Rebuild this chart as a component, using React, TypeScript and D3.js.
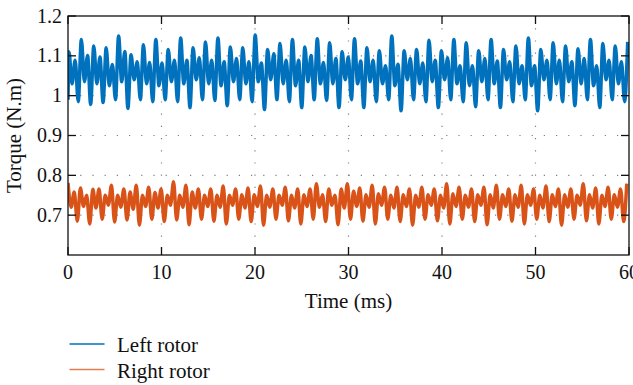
import React from "react";
import * as d3 from "d3";

// ---- data ----
const xTicks = [0, 10, 20, 30, 40, 50, 60];
const yTicks = [0.7, 0.8, 0.9, 1.0, 1.1, 1.2];
const yTickLabels = ["0.7", "0.8", "0.9", "1", "1.1", "1.2"];

const peakPeriodMs = 0.664; // spacing of successive local maxima
const leftStartMs = 0.1;
const rightStartMs = 0.0;

const leftStartValue = 0.99;
const leftPeaks = [
  1.110, 1.089, 1.141, 1.101, 1.125, 1.097, 1.120, 1.078, 1.150, 1.111, 1.103, 1.085, 1.128, 1.083, 1.141, 1.082, 1.116, 1.089, 1.145, 1.089, 1.120, 1.095, 1.135,
  1.089, 1.145, 1.085, 1.122, 1.093, 1.120, 1.085, 1.152, 1.082, 1.116, 1.105, 1.131, 1.089, 1.141, 1.089, 1.122, 1.101, 1.143, 1.083, 1.133, 1.093, 1.110,
  1.097, 1.143, 1.087, 1.120, 1.089, 1.113, 1.075, 1.150, 1.079, 1.113, 1.093, 1.116, 1.082, 1.139, 1.089, 1.113, 1.095, 1.141, 1.075, 1.133, 1.075, 1.113, 1.093,
  1.141, 1.087, 1.116, 1.085, 1.125, 1.075, 1.145, 1.075, 1.116, 1.089, 1.133, 1.089, 1.125, 1.085, 1.118, 1.093, 1.141, 1.075, 1.131, 1.089, 1.125, 1.085, 1.135,
];
const leftTroughs = [
  1.03, 0.985, 1.035, 0.978, 1.03, 0.983, 1.025, 0.99, 1.035, 0.968,
  1.04, 0.99, 1.03, 0.985, 1.025, 0.99, 1.035, 0.985, 1.03, 0.97,
  1.04, 0.99, 1.03, 0.988, 1.025, 0.975, 1.035, 0.99, 1.03, 0.985,
  1.035, 0.965, 1.04, 0.99, 1.03, 0.985, 1.025, 0.97, 1.035, 0.99,
  1.03, 0.988, 1.03, 0.97, 1.04, 0.99, 1.03, 0.97, 1.035, 0.985,
  1.03, 0.99, 1.025, 0.962, 1.04, 0.99, 1.03, 0.985, 1.035, 0.97,
  1.04, 0.99, 1.03, 0.985, 1.025, 0.972, 1.035, 0.99, 1.03, 0.97,
  1.04, 0.985, 1.03, 0.99, 1.025, 0.962, 1.04, 0.99, 1.03, 0.985,
  1.035, 0.975, 1.03, 0.99, 1.025, 0.97, 1.04, 0.99, 1.03, 0.985,
];

const rightPeaks = [
  0.781, 0.758, 0.768, 0.750, 0.765, 0.766, 0.750, 0.775, 0.750, 0.766, 0.758, 0.775, 0.750, 0.770, 0.757, 0.766, 0.750, 0.784, 0.750, 0.775, 0.758, 0.766, 0.750,
  0.766, 0.750, 0.773, 0.750, 0.766, 0.751, 0.768, 0.751, 0.773, 0.750, 0.766, 0.750, 0.770, 0.750, 0.766, 0.751, 0.766, 0.779, 0.751, 0.766, 0.750, 0.766, 0.779,
  0.760, 0.768, 0.751, 0.775, 0.754, 0.770, 0.750, 0.770, 0.751, 0.766, 0.750, 0.770, 0.751, 0.766, 0.750, 0.779, 0.754, 0.770, 0.750, 0.766, 0.751, 0.770,
  0.751, 0.775, 0.751, 0.766, 0.751, 0.775, 0.751, 0.766, 0.750, 0.773, 0.751, 0.766, 0.751, 0.766, 0.750, 0.779, 0.751, 0.768, 0.750, 0.770, 0.751, 0.766, 0.779,
];
const rightTroughs = [
  0.72, 0.685, 0.722, 0.678, 0.718, 0.69, 0.725, 0.683, 0.72, 0.688,
  0.715, 0.675, 0.722, 0.69, 0.718, 0.684, 0.725, 0.688, 0.72, 0.676,
  0.718, 0.69, 0.722, 0.685, 0.72, 0.678, 0.725, 0.69, 0.718, 0.684,
  0.722, 0.675, 0.72, 0.69, 0.725, 0.686, 0.718, 0.678, 0.722, 0.69,
  0.72, 0.684, 0.725, 0.676, 0.718, 0.69, 0.722, 0.685, 0.72, 0.678,
  0.725, 0.69, 0.718, 0.684, 0.722, 0.675, 0.72, 0.69, 0.725, 0.686,
  0.718, 0.678, 0.722, 0.69, 0.72, 0.684, 0.725, 0.676, 0.718, 0.69,
  0.722, 0.685, 0.72, 0.678, 0.725, 0.69, 0.718, 0.684, 0.722, 0.675,
  0.72, 0.69, 0.725, 0.686, 0.718, 0.678, 0.722, 0.69, 0.72, 0.684,
];

const seriesNames = ["Left rotor", "Right rotor"];
const seriesColors = ["#0072BD", "#D95319"];

type Pt = [number, number];

function buildSeries(start: number, startValue: number | null, peaks: number[], troughs: number[]): Pt[] {
  const pts: Pt[] = [];
  if (startValue !== null) pts.push([0, startValue]);
  peaks.forEach((p, i) => {
    const t = start + i * peakPeriodMs;
    pts.push([t, p]);
    if (i < troughs.length) pts.push([t + peakPeriodMs / 2, troughs[i]]);
  });
  return pts;
}

const W = 633;
const H = 385;
const M = { left: 68, right: 629, top: 16, bottom: 255 };
const FONT = '"Liberation Serif", "Times New Roman", serif';

export default function App() {
  const x = d3.scaleLinear().domain([0, 60]).range([M.left, M.right]);
  const y = d3.scaleLinear().domain([0.6, 1.2]).range([M.bottom, M.top]);

  const line = d3
    .line<Pt>()
    .x((d) => x(d[0]))
    .y((d) => y(d[1]))
    .curve(d3.curveMonotoneX);

  const leftData = buildSeries(leftStartMs, leftStartValue, leftPeaks, leftTroughs);
  const rightData = buildSeries(rightStartMs, null, rightPeaks, rightTroughs);
  const all = [leftData, rightData];

  const tickLen = 8;
  const gridStyle = { stroke: "#555", strokeWidth: 1.2, strokeDasharray: "1.2 11", opacity: 0.75 };

  return (
    <svg
      width={W}
      height={H}
      style={{ position: "absolute", left: 0, top: 0, background: "#fff" }}
      fontFamily={FONT}
    >
      <defs>
        <clipPath id="plotClip">
          <rect x={M.left} y={M.top} width={M.right - M.left} height={M.bottom - M.top} />
        </clipPath>
      </defs>
      <rect x={0} y={0} width={W} height={H} fill="#fff" />

      {/* grid */}
      {xTicks.slice(1, -1).map((t) => (
        <line key={"gx" + t} x1={x(t)} x2={x(t)} y1={M.top} y2={M.bottom} {...gridStyle} />
      ))}
      {yTicks.slice(0, -1).map((t) => (
        <line key={"gy" + t} x1={M.left} x2={M.right} y1={y(t)} y2={y(t)} {...gridStyle} />
      ))}

      {/* series */}
      <g clipPath="url(#plotClip)">
        {all.map((d, i) => (
          <path
            key={i}
            d={line(d) || ""}
            fill="none"
            stroke={seriesColors[i]}
            strokeWidth={3.5}
            strokeLinejoin="round"
          />
        ))}
      </g>

      {/* axes box */}
      <rect
        x={M.left}
        y={M.top}
        width={M.right - M.left}
        height={M.bottom - M.top}
        fill="none"
        stroke="#111"
        strokeWidth={1.3}
      />
      {xTicks.map((t) => (
        <g key={"xt" + t}>
          <line x1={x(t)} x2={x(t)} y1={M.bottom} y2={M.bottom - tickLen} stroke="#111" strokeWidth={1.3} />
          <line x1={x(t)} x2={x(t)} y1={M.top} y2={M.top + tickLen} stroke="#111" strokeWidth={1.3} />
          <text x={x(t)} y={279} textAnchor="middle" fontSize={20} fill="#111">
            {t}
          </text>
        </g>
      ))}
      {yTicks.map((t, i) => (
        <g key={"yt" + t}>
          <line x1={M.left} x2={M.left + tickLen} y1={y(t)} y2={y(t)} stroke="#111" strokeWidth={1.3} />
          <line x1={M.right} x2={M.right - tickLen} y1={y(t)} y2={y(t)} stroke="#111" strokeWidth={1.3} />
          <text x={62} y={y(t) + 6.5} textAnchor="end" fontSize={20} fill="#111">
            {yTickLabels[i]}
          </text>
        </g>
      ))}

      {/* axis titles */}
      <text x={(M.left + M.right) / 2} y={308} textAnchor="middle" fontSize={21} fill="#111">
        Time (ms)
      </text>
      <text
        transform={`translate(21, ${(M.top + M.bottom) / 2}) rotate(-90)`}
        textAnchor="middle"
        fontSize={21}
        fill="#111"
      >
        Torque (N.m)
      </text>

      {/* legend */}
      {seriesNames.map((n, i) => (
        <g key={n}>
          <line x1={69.5} x2={104.5} y1={344 + i * 25.5} y2={344 + i * 25.5} stroke={seriesColors[i]} strokeWidth={1.5} opacity={i === 1 ? 0.75 : 1} />
          <text x={117} y={352 + i * 26} fontSize={21} fill="#111">
            {n}
          </text>
        </g>
      ))}
    </svg>
  );
}
